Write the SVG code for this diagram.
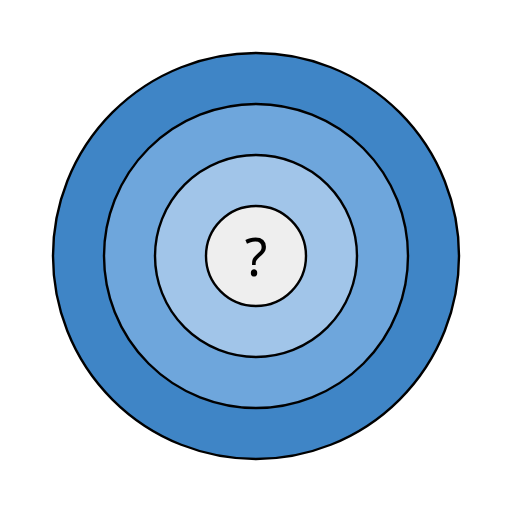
<svg xmlns="http://www.w3.org/2000/svg" width="512" height="512" viewBox="0 0 512 512">
<style>
circle{stroke:#000;stroke-width:2.4}
text{font-family:"Noto Sans","DejaVu Sans",sans-serif;font-size:52px;fill:#000}
</style>
<rect width="512" height="512" fill="#fff"/>
<g id="ring1"><circle cx="256" cy="256" r="203" fill="#3f85c6"/></g>
<g id="ring2"><circle cx="256" cy="256" r="152" fill="#6ea6dc"/></g>
<g id="ring3"><circle cx="256" cy="256" r="101" fill="#a1c5e9"/></g>
<g id="core"><circle cx="256" cy="256" r="50" fill="#eeeeee"/>
<text x="256" y="276" text-anchor="middle">?</text></g>
</svg>
